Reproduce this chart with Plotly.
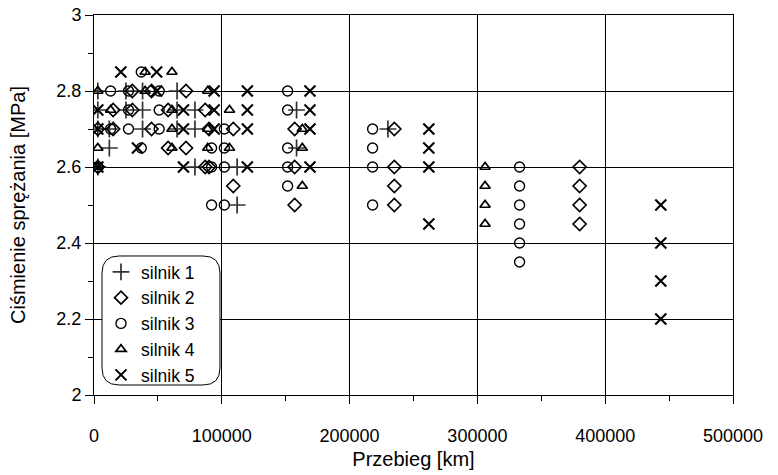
import plotly.graph_objects as go

# Compression pressure vs. mileage for five engines
s1_km = [3000, 3000, 3000, 3000, 12000, 12000, 25000, 25000, 38000, 38000, 38000,
         65000, 65000, 65000, 79000, 79000, 79000, 112000, 112000, 158500, 158500, 230000]
s1_mpa = [2.8, 2.75, 2.7, 2.6, 2.65, 2.7, 2.75, 2.8, 2.7, 2.8, 2.75,
          2.7, 2.75, 2.8, 2.7, 2.75, 2.6, 2.6, 2.5, 2.65, 2.75, 2.7]

s2_km = [3000, 3000, 15000, 15000, 30000, 30000, 45000, 45000, 58000, 58000, 72000, 72000,
         87000, 87000, 90000, 90000, 109000, 109000, 157000, 157000, 157000,
         235000, 235000, 235000, 235000, 380000, 380000, 380000, 380000]
s2_mpa = [2.6, 2.7, 2.75, 2.7, 2.8, 2.75, 2.7, 2.8, 2.65, 2.75, 2.65, 2.8,
          2.6, 2.75, 2.6, 2.7, 2.7, 2.55, 2.7, 2.6, 2.5,
          2.7, 2.6, 2.55, 2.5, 2.6, 2.55, 2.5, 2.45]

s3_km = [3000, 13000, 13000, 27000, 27000, 27000, 37000, 37000, 51000, 51000, 51000,
         92000, 92000, 92000, 102000, 102000, 102000, 102000,
         151500, 151500, 151500, 151500, 151500, 218000, 218000, 218000, 218000,
         333000, 333000, 333000, 333000, 333000, 333000]
s3_mpa = [2.6, 2.8, 2.7, 2.7, 2.75, 2.8, 2.85, 2.65, 2.7, 2.75, 2.8,
          2.65, 2.6, 2.5, 2.7, 2.65, 2.6, 2.5,
          2.8, 2.75, 2.65, 2.6, 2.55, 2.7, 2.65, 2.6, 2.5,
          2.6, 2.55, 2.5, 2.45, 2.4, 2.35]

s4_km = [3000, 3000, 3000, 13000, 40000, 40000, 61000, 61000, 61000, 61000,
         89000, 89000, 89000, 106000, 106000, 163000, 163000, 163000,
         306000, 306000, 306000, 306000]
s4_mpa = [2.8, 2.65, 2.6, 2.75, 2.85, 2.8, 2.85, 2.7, 2.65, 2.75,
          2.8, 2.7, 2.65, 2.75, 2.65, 2.7, 2.65, 2.55,
          2.6, 2.55, 2.5, 2.45]

s5_km = [3000, 3000, 3000, 21000, 34000, 49000, 49000, 70000, 70000, 70000,
         94000, 94000, 94000, 120000, 120000, 120000, 120000,
         169000, 169000, 169000, 169000, 262000, 262000, 262000, 262000,
         443500, 443500, 443500, 443500]
s5_mpa = [2.75, 2.7, 2.6, 2.85, 2.65, 2.85, 2.8, 2.75, 2.7, 2.6,
          2.8, 2.75, 2.7, 2.8, 2.75, 2.7, 2.6,
          2.8, 2.75, 2.7, 2.6, 2.7, 2.65, 2.6, 2.45,
          2.5, 2.4, 2.3, 2.2]

series = [
    ("silnik 1", s1_km, s1_mpa, "cross-thin-open", 12, 1.7, "#333333"),
    ("silnik 2", s2_km, s2_mpa, "diamond-open", 10, 1.7, "black"),
    ("silnik 3", s3_km, s3_mpa, "circle-open", 10, 1.4, "black"),
    ("silnik 4", s4_km, s4_mpa, "triangle-up-open", 9, 1.7, "black"),
    ("silnik 5", s5_km, s5_mpa, "x-thin-open", 11, 2.1, "black"),
]

FONT = "Liberation Sans, Arial, sans-serif"

fig = go.Figure()
for name, xs, ys, sym, size, lw, col in series:
    fig.add_trace(go.Scatter(
        x=xs, y=ys, mode="markers", name=name,
        marker=dict(symbol=sym, size=size, color=col,
                    line=dict(color=col, width=lw)),
    ))

# plot area geometry in pixels (for the rounded legend frame)
L, R, T, B = 94, 733, 15, 395
W, H = 778, 475


def px2paper(px, py):
    return (px - L) / (R - L), (B - py) / (B - T)


def rounded_box(x0, y0, x1, y1, r):
    def p(x, y):
        a, b = px2paper(x, y)
        return f"{a:.5f},{b:.5f}"
    return (f"M {p(x0 + r, y0)} L {p(x1 - r, y0)} Q {p(x1, y0)} {p(x1, y0 + r)} "
            f"L {p(x1, y1 - r)} Q {p(x1, y1)} {p(x1 - r, y1)} "
            f"L {p(x0 + r, y1)} Q {p(x0, y1)} {p(x0, y1 - r)} "
            f"L {p(x0, y0 + r)} Q {p(x0, y0)} {p(x0 + r, y0)} Z")


fig.add_shape(type="path", xref="paper", yref="paper",
              path=rounded_box(102, 256, 220, 385, 17),
              fillcolor="white", line=dict(color="black", width=1), layer="above")

axis_common = dict(
    showline=True, linecolor="black", linewidth=1, mirror=True,
    showgrid=True, gridcolor="black", gridwidth=1,
    ticks="outside", ticklen=8, tickcolor="black", tickwidth=1,
    zeroline=False, automargin=False,
    tickfont=dict(family=FONT, size=18, color="black"),
    title_font=dict(family=FONT, size=20, color="black"),
)

fig.update_xaxes(
    range=[0, 500000], tickmode="linear", tick0=0, dtick=100000,
    tickformat="d", title_text="Przebieg [km]", title_standoff=7,
    ticklabelstandoff=16,
    minor=dict(ticks="outside", ticklen=5, tickcolor="black", dtick=50000, showgrid=False),
    **axis_common,
)
fig.update_yaxes(
    range=[2, 3], tickmode="array",
    tickvals=[2, 2.2, 2.4, 2.6, 2.8, 3],
    ticktext=["2", "2.2", "2.4", "2.6", "2.8", "3"],
    title_text="Ciśmienie sprężania [MPa]", title_standoff=25,
    minor=dict(ticks="outside", ticklen=5, tickcolor="black", dtick=0.1, showgrid=False),
    **axis_common,
)

lx, ly = px2paper(101, 254)
fig.update_layout(
    width=W, height=H,
    margin=dict(l=L, r=W - R, t=T, b=H - B, autoexpand=False),
    plot_bgcolor="white", paper_bgcolor="white",
    font=dict(family=FONT, size=17, color="black"),
    legend=dict(x=lx, y=ly, xanchor="left", yanchor="top",
                bgcolor="rgba(0,0,0,0)", borderwidth=0,
                font=dict(family=FONT, size=17.5, color="black"),
                itemwidth=30, tracegroupgap=0),
    showlegend=True,
)

fig.write_html("out.html")
